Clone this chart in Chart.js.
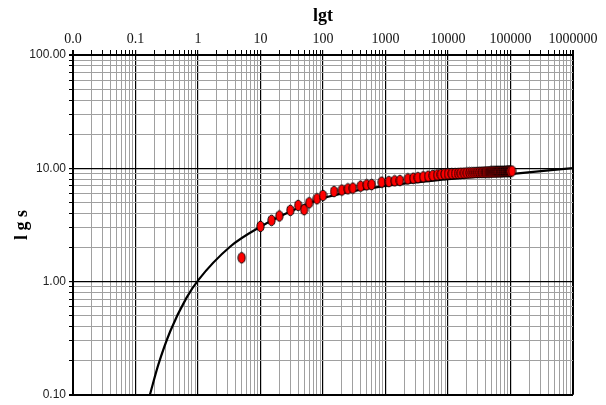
<!DOCTYPE html>
<html>
<head>
<meta charset="utf-8">
<script src="https://cdn.jsdelivr.net/npm/chart.js@4.4.1/dist/chart.umd.min.js"></script>
<style>
  html, body { margin: 0; padding: 0; background: #fff; }
  #wrap { width: 606px; height: 405px; }
</style>
</head>
<body>
<div id="wrap"><canvas id="settleChart" width="606" height="405"></canvas></div>
<script>
// measured points: time t and settlement s
var obsTime = [5, 10, 15, 20, 30, 40, 50, 60, 80, 100, 150, 200, 250, 300, 400, 500, 600, 870,
  1130, 1400, 1700, 2280, 2780, 3300, 4000, 4800, 5700, 6700, 7700, 8800, 10000, 11500, 13000,
  14500, 16000, 18000, 20000, 22000, 24000, 26000, 28000, 30000, 32000, 34000, 36000, 38000,
  40000, 42000, 44000, 46000, 48000, 50000, 52000, 54000, 56000, 58000, 60000, 62000, 64000,
  66000, 68000, 70000, 72000, 74000, 76000, 78000, 80000, 82000, 84000, 86000, 88000, 90000,
  92000, 94000, 96000, 98000, 100000, 106000];
var obsSettle = [1.62, 3.07, 3.47, 3.79, 4.25, 4.70, 4.31, 4.96, 5.38, 5.75, 6.23, 6.42, 6.58, 6.68, 6.95, 7.14, 7.18, 7.54,
  7.63, 7.74, 7.79, 8.06, 8.17, 8.27, 8.40, 8.52, 8.63, 8.74, 8.82, 8.89, 8.92, 8.95, 8.98,
  9.01, 9.04, 9.07, 9.10, 9.12, 9.14, 9.16, 9.17, 9.19, 9.20, 9.21, 9.22, 9.23,
  9.24, 9.25, 9.26, 9.26, 9.27, 9.28, 9.29, 9.30, 9.30, 9.31, 9.32, 9.32, 9.33,
  9.33, 9.34, 9.34, 9.35, 9.35, 9.36, 9.36, 9.37, 9.37, 9.38, 9.38, 9.39, 9.39,
  9.40, 9.40, 9.41, 9.41, 9.42, 9.45];

// fitted curve
var fitTime = [0.17, 0.232, 0.361, 0.65, 1.01, 3.29, 10, 30, 100, 1000, 10000, 120000, 1000000];
var fitSettle = [0.1, 0.1845, 0.366, 0.714, 1.03, 2.04, 3.05, 4.15, 5.45, 7.0, 8.0, 8.97, 10.05];

var xDecades = [0.01, 0.1, 1, 10, 100, 1000, 10000, 100000, 1000000];
var xTickLabels = ['0.0', '0.1', '1', '10', '100', '1000', '10000', '100000', '1000000'];
var yDecades = [0.1, 1, 10, 100];
var yTickLabels = ['0.10', '1.00', '10.00', '100.00'];

function logTicks(decades) {
  var out = [];
  decades.forEach(function (d, i) {
    out.push({ value: d });
    if (i < decades.length - 1) {
      for (var k = 2; k < 10; k++) out.push({ value: d * k });
    }
  });
  return out;
}

function gridColor(decades) {
  return function (ctx) {
    var v = ctx.tick ? ctx.tick.value : null;
    return decades.indexOf(v) >= 0 ? '#000' : '#a0a0a0';
  };
}
function gridWidth(decades) {
  return function (ctx) {
    var v = ctx.tick ? ctx.tick.value : null;
    if (v === decades[0] || v === decades[decades.length - 1]) return 2;
    return decades.indexOf(v) >= 0 ? 1.2 : 1;
  };
}

// red oval marker like the original
var dot = document.createElement('canvas');
dot.width = 9;
dot.height = 13;
var dc = dot.getContext('2d');
dc.beginPath();
dc.ellipse(4.5, 6.5, 3.6, 5.3, 0, 0, 2 * Math.PI);
dc.fillStyle = '#ff0000';
dc.fill();
dc.lineWidth = 1;
dc.strokeStyle = '#000';
dc.stroke();

var obsPoints = obsTime.map(function (t, i) { return { x: t, y: obsSettle[i] }; });
var fitPoints = fitTime.map(function (t, i) { return { x: t, y: fitSettle[i] }; });

var chart = new Chart('settleChart', {
  type: 'scatter',
  data: {
    datasets: [{
      data: obsPoints,
      pointStyle: dot,
      pointRadius: 5,
      showLine: false
    }, {
      data: fitPoints,
      showLine: true,
      borderColor: '#000',
      borderWidth: 2.2,
      pointRadius: 0,
      cubicInterpolationMode: 'monotone',
      fill: false
    }]
  },
  options: {
    responsive: false,
    animation: false,
    layout: { padding: { left: 0, right: 33, top: 0, bottom: 8 } },
    plugins: { legend: { display: false }, tooltip: { enabled: false } },
    scales: {
      x: {
        type: 'logarithmic',
        position: 'top',
        min: 0.01,
        max: 1000000,
        afterBuildTicks: function (scale) { scale.ticks = logTicks(xDecades); },
        afterFit: function (scale) { scale.height = 55; },
        ticks: {
          autoSkip: false,
          maxRotation: 0,
          padding: 2,
          color: '#111',
          font: { family: 'Liberation Serif', size: 14 },
          callback: function (value) {
            var i = xDecades.indexOf(value);
            return i >= 0 ? xTickLabels[i] : '';
          }
        },
        grid: {
          color: gridColor(xDecades),
          lineWidth: gridWidth(xDecades),
          tickColor: '#000',
          tickLength: 5
        },
        border: { display: true, color: '#000', width: 2 },
        title: {
          display: true,
          text: 'lgt',
          color: '#000',
          padding: { top: 6, bottom: 0 },
          font: { family: 'Liberation Serif', size: 18, weight: 'bold' }
        }
      },
      y: {
        type: 'logarithmic',
        position: 'left',
        min: 0.1,
        max: 100,
        afterBuildTicks: function (scale) { scale.ticks = logTicks(yDecades); },
        afterFit: function (scale) { scale.width = 73; },
        ticks: {
          autoSkip: false,
          padding: 3,
          color: '#222',
          font: { family: 'Liberation Sans', size: 12 },
          callback: function (value) {
            var i = yDecades.indexOf(value);
            return i >= 0 ? yTickLabels[i] : '';
          }
        },
        grid: {
          color: gridColor(yDecades),
          lineWidth: gridWidth(yDecades),
          tickColor: '#000',
          tickLength: 4
        },
        border: { display: true, color: '#000', width: 2 },
        title: {
          display: true,
          text: 'l g s',
          color: '#000',
          padding: { top: 12, bottom: 0 },
          font: { family: 'Liberation Serif', size: 18, weight: 'bold' }
        }
      }
    }
  }
});
</script>
</body>
</html>
